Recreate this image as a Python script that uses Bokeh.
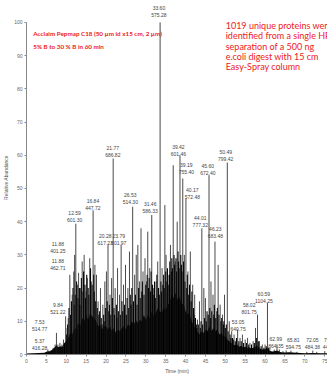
from bokeh.plotting import figure
from bokeh.models import FixedTicker, Range1d, ColumnDataSource
from bokeh.core.properties import value
from bokeh.embed import file_html
from bokeh.resources import INLINE

# ---- data ----
# solid black base of the chromatogram (time in min, relative abundance %)
env_time = [0.0, 4.5, 5.0, 5.5, 6.0, 6.5, 7.0, 7.5, 8.0, 8.5, 9.0, 9.5, 10.0, 10.5, 11.0, 11.5,
            12.0, 12.5, 13.0, 13.5, 14.0, 14.5, 15.0, 15.5, 16.0, 16.5, 17.0, 17.5, 18.0, 18.5,
            19.0, 19.5, 20.0, 20.5, 21.0, 21.5, 22.0, 22.5, 23.0, 23.5, 24.0, 24.5, 25.0, 25.5,
            26.0, 26.5, 27.0, 27.5, 28.0, 28.5, 29.0, 29.5, 30.0, 30.5, 31.0, 31.5, 32.0, 32.5,
            33.0, 33.5, 34.0, 34.5, 35.0, 35.5, 36.0, 36.5, 37.0, 37.5, 38.0, 38.5, 39.0, 39.5,
            40.0, 40.5, 41.0, 41.5, 42.0, 42.5, 43.0, 43.5, 44.0, 44.5, 45.0, 45.5, 46.0, 46.5,
            47.0, 47.5, 48.0, 48.5, 49.0, 49.5, 50.0, 50.5, 51.0, 51.5, 52.0, 52.5, 53.0, 53.5,
            54.0, 54.5, 55.0, 55.5, 56.0, 56.5, 57.0, 57.5, 58.0, 58.5, 59.0, 59.5, 60.0, 60.5,
            61.0, 61.5, 62.0, 63.0, 64.0, 65.0, 66.0, 68.0, 70.0, 72.0, 74.0, 76.0, 80.0]
env_level = [0.3, 0.5, 0.8, 1.0, 1.0, 1.5, 2.0, 2.8, 2.2, 2.5, 2.3, 3.5, 4.0, 5.0, 6.5, 6.0,
             8.0, 7.5, 9.5, 8.5, 11.0, 10.0, 12.0, 10.5, 12.5, 11.5, 11.0, 10.0, 8.5, 9.0,
             7.5, 8.5, 8.5, 7.5, 8.5, 7.0, 8.0, 6.5, 7.5, 7.0, 8.0, 8.5, 7.5, 9.0,
             8.5, 10.0, 9.0, 10.5, 9.5, 10.5, 10.0, 12.0, 10.5, 12.0, 11.0, 13.0, 11.5, 12.5,
             14.0, 13.0, 12.5, 14.0, 13.5, 15.0, 15.5, 18.0, 17.0, 18.5, 16.5, 17.5, 15.0, 15.5,
             13.0, 12.0, 12.5, 10.0, 9.0, 7.5, 7.0, 6.0, 7.0, 6.5, 7.5, 7.0, 8.5, 7.0,
             8.0, 7.0, 7.5, 6.0, 6.5, 5.5, 5.5, 4.5, 4.0, 3.5, 3.0, 2.8, 3.0, 2.3,
             2.6, 2.2, 2.3, 2.0, 2.2, 1.8, 2.0, 2.3, 2.6, 2.0, 1.6, 1.5, 1.6, 2.0,
             1.2, 1.0, 0.9, 1.2, 0.7, 0.6, 0.7, 0.5, 0.4, 0.45, 0.4, 0.4, 0.3]

# prominent peaks
spike_time = [5.37, 6.0, 6.7, 7.2, 7.53, 7.9, 8.4, 8.9, 9.3, 9.84, 10.2, 10.5, 10.9, 11.5, 11.88,
              12.1, 12.4, 12.8, 13.1, 13.6, 14.0, 14.5, 15.0, 15.3, 15.9, 16.3, 16.75, 17.2, 17.6,
              18.0, 18.6, 19.2, 19.7, 20.1, 20.5, 21.0, 21.4, 21.8, 22.3, 22.9, 23.4, 23.8, 24.4,
              24.9, 25.5, 25.9, 26.7, 27.2, 27.6, 28.0, 28.4, 28.8, 29.3, 29.8, 30.2, 30.5, 31.0,
              31.5, 32.0, 32.6, 33.0, 33.6, 34.1, 34.8, 35.1, 35.6, 36.2, 36.9, 37.4, 37.9, 38.6,
              39.3, 39.7, 40.1, 40.6, 41.2, 41.8, 42.3, 43.0, 43.5, 44.1, 44.6, 45.0, 45.9, 46.4,
              46.9, 47.4, 48.2, 48.7, 49.3, 49.8, 50.5, 51.0, 51.6, 52.2, 53.1, 53.7, 54.3, 55.0,
              55.6, 56.2, 57.0, 57.6, 58.1, 58.6, 59.3, 60.0, 60.6, 61.2, 62.3, 63.0, 63.6, 64.5,
              65.3, 66.5, 68.0, 70.5, 72.0, 73.0, 75.0, 77.0]
spike_height = [1.5, 1.2, 2.0, 3.0, 6.5, 3.0, 3.5, 3.0, 4.5, 11.5, 8.0, 11.0, 24.0, 18.0, 25.0,
                30.0, 39.4, 21.0, 24.6, 20.0, 28.0, 30.0, 19.0, 23.0, 29.0, 22.0, 43.4, 27.0, 24.0,
                16.0, 20.0, 15.0, 22.0, 25.0, 33.0, 18.0, 23.0, 59.0, 20.0, 26.0, 18.0, 33.0, 21.0,
                27.0, 20.0, 31.0, 44.5, 24.0, 30.0, 33.0, 22.0, 38.0, 25.0, 29.0, 22.0, 37.0, 26.0,
                42.0, 20.0, 22.0, 28.0, 100.0, 26.0, 45.0, 30.0, 24.0, 33.0, 57.0, 28.0, 40.0, 60.0,
                53.0, 30.0, 47.0, 25.0, 31.0, 21.0, 18.0, 10.5, 16.0, 38.0, 20.0, 17.0, 54.0, 22.0,
                18.0, 34.0, 27.0, 15.0, 12.0, 18.0, 57.8, 10.0, 7.0, 6.0, 7.5, 5.0, 6.0, 4.5,
                5.0, 3.5, 4.0, 8.0, 12.0, 4.0, 3.0, 3.0, 15.5, 2.0, 1.5, 3.0, 1.5, 1.0,
                1.2, 1.2, 0.8, 0.8, 1.2, 0.8, 1.0, 0.6]

# smaller co-eluting peaks forming the dense clusters
minor_time = [10.1, 10.35, 10.7, 11.1, 11.3, 11.7, 12.0, 12.25, 12.6, 12.95, 13.3, 13.45, 13.8,
              14.2, 14.35, 14.7, 14.85, 15.15, 15.5, 15.7, 16.1, 16.5, 16.9, 17.05, 17.4, 17.8,
              18.2, 18.4, 18.8, 19.0, 19.4, 19.55, 19.9, 20.3, 20.7, 20.85, 21.2, 21.6, 22.0,
              22.15, 22.6, 22.75, 23.1, 23.6, 24.0, 24.2, 24.65, 25.1, 25.3, 25.7, 26.1, 26.3,
              26.5, 26.9, 27.4, 27.8, 28.2, 28.6, 29.0, 29.15, 29.55, 30.0, 30.35, 30.7, 30.85,
              31.2, 31.35, 31.7, 31.85, 32.2, 32.4, 32.8, 33.2, 33.4, 33.8, 33.95, 34.3, 34.5,
              34.65, 35.0, 35.3, 35.45, 35.8, 35.95, 36.05, 36.4, 36.55, 36.7, 37.1, 37.25, 37.6,
              37.75, 38.1, 38.25, 38.4, 38.8, 38.95, 39.1, 39.5, 39.85, 40.3, 40.45, 40.8, 41.0,
              41.4, 41.6, 42.0, 42.15, 42.5, 42.7, 42.85, 43.2, 43.7, 43.9, 44.3, 44.8, 45.2,
              45.4, 45.7, 46.1, 46.25, 46.6, 47.1, 47.25, 47.6, 47.9, 48.0, 48.4, 48.9, 49.1,
              49.5, 49.65, 50.0, 50.25, 50.7, 51.2, 51.4, 51.8, 52.0, 52.5, 52.8, 53.4, 54.0,
              54.6, 55.3, 55.9, 56.6, 57.3, 57.8, 58.3, 59.0, 59.7, 60.3, 60.9]
minor_height = [6, 9, 14, 12, 16, 20, 15, 18, 22, 17, 20, 15, 23,
                19, 25, 21, 17, 24, 20, 18, 26, 21, 24, 19, 16, 14,
                12, 13, 11, 9, 12, 10, 14, 16, 13, 15, 12, 17, 14,
                12, 15, 11, 13, 12, 16, 13, 15, 12, 17, 14, 18, 15,
                20, 16, 18, 15, 20, 17, 19, 22, 18, 21, 24, 20, 23,
                19, 25, 21, 18, 22, 17, 24, 20, 18, 22, 19, 21, 24,
                20, 25, 22, 26, 21, 24, 28, 25, 29, 26, 30, 27, 29,
                25, 31, 28, 26, 30, 27, 25, 28, 22, 20, 24, 18, 21,
                16, 19, 14, 12, 11, 9, 8, 9, 8, 10, 9, 11, 10,
                13, 12, 14, 11, 13, 12, 15, 11, 13, 14, 12, 10, 11,
                9, 10, 8, 9, 7, 6, 5, 5, 4.5, 4, 5, 4, 4,
                3.5, 3.5, 3, 3, 3.5, 5, 4, 2.5, 2, 2.5, 2]

# peak annotations: retention time / base peak m/z
lab_rt = ["33.60", "21.77", "16.84", "12.59", "11.88", "11.88", "9.84", "7.53", "5.37",
          "20.28", "23.79", "26.53", "31.46", "39.42", "39.19", "40.17", "44.01", "45.60",
          "46.23", "50.49", "53.05", "58.02", "60.59", "62.99", "65.81", "72.05", "75.32"]
lab_mz = ["575.28", "686.82", "447.72", "601.30", "401.25", "462.71", "521.22", "514.77", "416.28",
          "617.23", "601.97", "514.30", "586.33", "601.46", "755.40", "572.48", "777.32", "672.40",
          "683.48", "799.42", "640.75", "801.75", "1104.25", "864.35", "594.75", "484.38", "445.27"]
lab_time = [33.3, 21.7, 16.7, 12.1, 7.9, 7.9, 7.9, 3.3, 3.3,
            19.8, 23.2, 26.1, 31.1, 38.2, 40.2, 41.7, 43.7, 45.6,
            47.5, 50.1, 53.2, 56.0, 59.7, 62.7, 67.1, 71.9, 76.4]
lab_level = [101.5, 59.4, 43.6, 40.0, 30.7, 25.4, 12.2, 7.2, 1.5,
             33.0, 33.0, 45.2, 42.5, 59.9, 54.5, 46.9, 38.5, 54.0,
             35.2, 58.4, 7.2, 12.2, 15.5, 2.1, 1.6, 1.6, 1.6]

note_left = ["Acclaim Pepmap C18 (50 \u00b5m id x15 cm, 2 \u00b5m)", "5% B to 30 % B in 60 min"]
note_right = ["1019 unique proteins were", "identified from a single HPLC",
              "separation of a 500 ng", "e.coli digest with 15 cm", "Easy-Spray column"]

x_ticks = [0, 5, 10, 15, 20, 25, 30, 35, 40, 45, 50, 55, 60, 65, 70, 75, 80]
y_ticks = [0, 10, 20, 30, 40, 50, 60, 70, 80, 90, 100]

# ---- figure ----
p = figure(width=327, height=376, output_backend="svg", toolbar_location=None,
           x_range=Range1d(0, 75.7), y_range=Range1d(0, 106.6),
           min_border_left=25, min_border_right=0, min_border_top=0, min_border_bottom=19)
p.outline_line_color = None
p.grid.visible = False
p.background_fill_color = "white"

p.varea(x=env_time, y1=0, y2=env_level, fill_color="black")
p.segment(x0=minor_time, y0=0, x1=minor_time, y1=minor_height, line_color="#000000", line_width=1.1)
p.segment(x0=spike_time, y0=0, x1=spike_time, y1=spike_height, line_color="#1a1a1a", line_width=0.8)

src = ColumnDataSource(dict(x=lab_time, y=lab_level, rt=lab_rt, mz=lab_mz))
common = dict(text_font=value("Liberation Sans"), text_font_size="5px", text_color="#444444",
              text_align="center", text_baseline="bottom")
p.text(x="x", y="y", text="mz", source=src, **common)
p.text(x="x", y="y", text="rt", source=src, y_offset=-7, **common)

ln_src = ColumnDataSource(dict(x=[1.7, 1.7], y=[96.6, 92.8], t=note_left))
p.text(x="x", y="y", text="t", source=ln_src, text_font=value("Lato"), text_font_size="6.3px",
       text_color="#ee2020", text_font_style="bold", text_baseline="middle")
rn_src = ColumnDataSource(dict(x=[50.1] * 5, y=[99.1, 96.0, 92.8, 89.7, 86.6], t=note_right))
p.text(x="x", y="y", text="t", source=rn_src, text_font=value("Lato"), text_font_size="9px",
       text_color="#ee2020", text_baseline="middle")

for ax in (p.xaxis[0], p.yaxis[0]):
    ax.axis_line_color = "#888888"
    ax.major_tick_line_color = "#888888"
    ax.minor_tick_line_color = None
    ax.major_tick_in = 0
    ax.major_tick_out = 2
    ax.major_label_text_font = "Liberation Sans"
    ax.major_label_text_font_size = "5px"
    ax.major_label_text_color = "#666666"
    ax.major_label_standoff = 2
    ax.axis_label_text_font = "Liberation Sans"
    ax.axis_label_text_font_size = "5px"
    ax.axis_label_text_color = "#555555"
    ax.axis_label_text_font_style = "normal"
    ax.axis_label_standoff = 2

p.xaxis.ticker = FixedTicker(ticks=x_ticks)
p.yaxis.ticker = FixedTicker(ticks=y_ticks)
p.xaxis.bounds = (0, 80)
p.yaxis.bounds = (0, 100)
p.xaxis.axis_label = "Time (min)"
p.yaxis.axis_label = "Relative Abundance"

open("out.html", "w").write(file_html(p, INLINE))
